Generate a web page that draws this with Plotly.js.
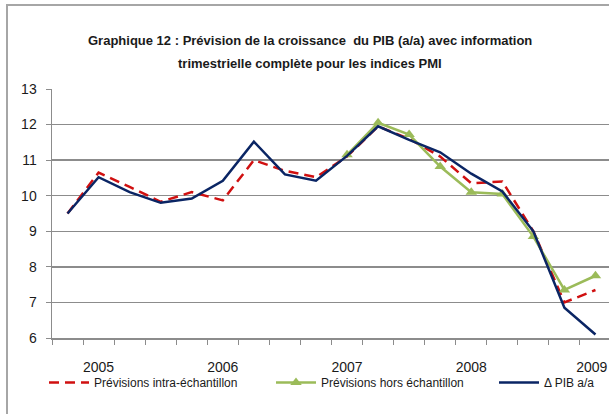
<!DOCTYPE html>
<html>
<head>
<meta charset="utf-8">
<script src="https://cdn.plot.ly/plotly-3.0.1.min.js"></script>
<style>
  html, body { margin: 0; padding: 0; width: 609px; height: 414px; overflow: hidden; background: #fff; }
  #frame { position: absolute; left: 6px; top: 4px; width: 700px; height: 500px;
           border-left: 2px solid #a6a6a6; border-top: 2px solid #a6a6a6; box-sizing: border-box; }
  #chart { position: absolute; left: 0; top: 0; width: 612px; height: 414px; }
</style>
</head>
<body>
<div id="chart"></div>
<div id="frame"></div>
<script>
// Quarters (2004T4 .. 2009T1)
const quarters = ["2004T4","2005T1","2005T2","2005T3","2005T4","2006T1","2006T2","2006T3","2006T4",
                  "2007T1","2007T2","2007T3","2007T4","2008T1","2008T2","2008T3","2008T4","2009T1"];
const yearTickQuarters = ["2005T1","2006T1","2007T1","2008T1","2009T1"];
const yearTickLabels = ["2005","2006","2007","2008","2009"];
const titleLines = ["Graphique 12 : Prévision de la croissance  du PIB (a/a) avec information",
                    "trimestrielle complète pour les indices PMI"];
const seriesNames = ["Prévisions intra-échantillon", "Prévisions hors échantillon", "Δ PIB a/a"];

// Prévisions intra-échantillon
const intraSample = [9.5, 10.65, 10.25, 9.83, 10.1, 9.87, 11.0, 10.7, 10.52,
                     11.1, 11.95, 11.6, 11.1, 10.35, 10.4, 9.0, 7.0, 7.35];
// Prévisions hors échantillon (from 2007T1)
const outSample = [null, null, null, null, null, null, null, null, null,
                   11.15, 12.05, 11.72, 10.82, 10.1, 10.05, 8.85, 7.35, 7.75];
// Δ PIB a/a
const gdpGrowth = [9.5, 10.52, 10.1, 9.8, 9.92, 10.42, 11.52, 10.6, 10.42,
                   11.12, 11.95, 11.57, 11.22, 10.62, 10.12, 9.0, 6.85, 6.1];

const xIdx = quarters.map((q, i) => i);
// last label nudged slightly left so it stays inside the frame, as in the original
const tickPos = yearTickQuarters.map((q, i) => quarters.indexOf(q) - (i === yearTickQuarters.length - 1 ? 0.12 : 0));

const font = "'Liberation Sans Narrow', 'Arial Narrow', sans-serif";

const traces = [
  { x: xIdx, y: intraSample, name: seriesNames[0], mode: "lines", legend: "legend",
    line: { color: "#d01010", width: 2.5, dash: "10px,6px" } },
  { x: xIdx, y: outSample, name: seriesNames[1], mode: "lines+markers", legend: "legend2",
    line: { color: "#9bbb59", width: 2.5 },
    marker: { symbol: "triangle-up", size: 10, color: "#9bbb59" } },
  { x: xIdx, y: gdpGrowth, name: seriesNames[2], mode: "lines", legend: "legend3",
    line: { color: "#0a2564", width: 2.5 } }
];

// plot area: top 89px, bottom 338px (height 249px), left 52px, width 559px
const titleAnn = titleLines.map((t, i) => ({
  text: "<b>" + t + "</b>", showarrow: false,
  xref: "paper", x: (310 - 52) / 559, xanchor: "center",
  yref: "paper", y: (338 - [40, 63][i]) / 249, yanchor: "middle",
  font: { family: font, size: 13, color: "#1a1a1a" }
}));

const legendBase = (px) => ({
  orientation: "h", x: (px - 52) / 559, xanchor: "left", y: -0.12, yanchor: "top",
  font: { size: 12, family: font, color: "#1a1a1a" },
  itemwidth: 40, bgcolor: "rgba(0,0,0,0)"
});

const layout = {
  width: 612, height: 414,
  margin: { l: 52, r: 1, t: 89, b: 76 },
  paper_bgcolor: "rgba(0,0,0,0)", plot_bgcolor: "#fff",
  font: { family: font, color: "#1a1a1a", size: 13 },
  annotations: titleAnn,
  xaxis: {
    range: [-0.5, 17.5], showgrid: false, zeroline: false,
    tickmode: "array", tickvals: tickPos, ticktext: yearTickLabels,
    ticks: "", ticklabelstandoff: 16,
    tickfont: { size: 14, family: font, color: "#1a1a1a" },
    showline: true, linecolor: "#8c8c8c", linewidth: 1.5,
    minor: { tick0: -0.5, dtick: 1, ticks: "outside", ticklen: 5, tickcolor: "#8c8c8c", tickwidth: 1, showgrid: false }
  },
  yaxis: {
    range: [6, 13], dtick: 1, tick0: 6,
    showgrid: true, gridcolor: "#8c8c8c", gridwidth: 1.5, zeroline: false,
    ticks: "outside", ticklen: 5, tickcolor: "#8c8c8c",
    showline: true, linecolor: "#8c8c8c", linewidth: 1.5,
    tickfont: { size: 14, family: font, color: "#1a1a1a" },
    ticklabelstandoff: 6
  },
  showlegend: true,
  legend: legendBase(44),
  legend2: legendBase(271),
  legend3: legendBase(494)
};

Plotly.newPlot("chart", traces, layout, { staticPlot: true, displayModeBar: false });
</script>
</body>
</html>
